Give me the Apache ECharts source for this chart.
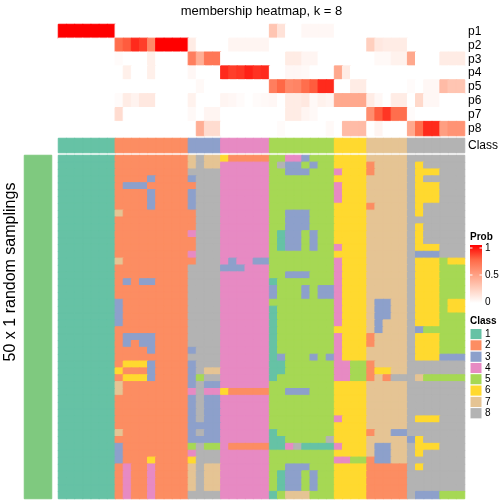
<!DOCTYPE html>
<html><head><meta charset="utf-8">
<script src="https://cdn.jsdelivr.net/npm/echarts@6.0.0/dist/echarts.min.js"></script>
<style>html,body{margin:0;padding:0;background:#fff}#c{width:504px;height:504px}</style>
</head><body><div id="c"></div><script>
// ---------- DATA ----------
const titleText = 'membership heatmap, k = 8';
const probLabels = ['p1','p2','p3','p4','p5','p6','p7','p8'];
const classNames = [1,2,3,4,5,6,7,8];
const classColors = ['#66C2A5','#FC8D62','#8DA0CB','#E78AC3','#A6D854','#FFD92F','#E5C494','#B3B3B3'];
// class of each of the 50 columns
const colClass = [1,1,1,1,1,1,1, 2,2,2,2,2,2,2,2,2, 3,3,3,3, 4,4,4,4,4,4, 5,5,5,5,5,5,5,5, 6,6,6,6, 7,7,7,7,7, 8,8,8,8,8,8,8];
// membership probabilities per class row
const p1 = [1,1,1,1,1,1,1, 0,0,0,0,0,0,0,0,0, 0,0,0,0, 0,0,0,0,0,0, 0.3,0.15,0,0,0.04,0.04,0.04,0.04, 0,0,0,0, 0,0,0,0,0, 0,0,0,0,0,0,0];
const p2 = [0,0,0,0,0,0,0, 0.72,0.78,0.9,0.85,0.6,1,1,1,1, 0.1,0,0,0, 0,0.05,0.05,0.05,0.05,0.05, 0,0,0,0,0,0,0,0, 0,0,0,0, 0.25,0.12,0.1,0.1,0.1, 0,0,0,0,0,0,0];
const p3 = [0,0,0,0,0,0,0, 0.02,0,0,0,0.08,0,0,0,0, 0.65,0.42,0.68,0.68, 0,0,0,0,0,0, 0,0,0.1,0.1,0.05,0.05,0,0, 0,0,0,0, 0,0.03,0.03,0.07,0.07, 0.45,0,0,0,0.1,0.1,0.1];
const p4 = [0,0,0,0,0,0,0, 0,0.08,0,0,0.08,0,0,0,0, 0.04,0,0,0, 0.9,0.85,0.87,0.92,0.88,0.9, 0,0,0.04,0.04,0.03,0,0,0, 0.45,0.1,0,0, 0,0,0,0,0, 0,0,0,0,0,0,0];
const p5 = [0,0,0,0,0,0,0, 0,0,0,0,0,0,0,0,0, 0,0.03,0,0, 0,0,0,0,0,0, 0.65,0.75,0.6,0.62,0.72,0.78,0.9,0.9, 0,0,0.1,0.1, 0,0,0,0,0, 0.02,0,0.04,0.04,0.35,0.3,0.3];
const p6 = [0,0,0,0,0,0,0, 0.02,0.1,0.06,0.12,0.12,0,0,0,0, 0.07,0,0,0, 0.05,0.04,0.02,0,0.02,0.03, 0.04,0,0.1,0.1,0.12,0.03,0.07,0.05, 0.45,0.45,0.45,0.45, 0.1,0.04,0,0.1,0.1, 0,0.2,0.04,0.04,0,0,0];
const p7 = [0,0,0,0,0,0,0, 0.18,0,0,0,0,0,0,0,0, 0.03,0,0.05,0.05, 0,0,0,0,0,0, 0,0,0.1,0.1,0.05,0.03,0,0, 0,0,0,0, 0.58,0.78,0.87,0.72,0.72, 0.02,0,0,0,0,0,0];
const p8 = [0,0,0,0,0,0,0, 0,0,0,0,0,0,0,0,0, 0,0.42,0.18,0.18, 0,0,0,0,0,0, 0,0.02,0,0,0,0,0,0.03, 0,0.35,0.35,0.35, 0,0.05,0,0,0, 0.45,0.72,0.9,0.9,0.5,0.55,0.55];
// class assigned in each of 50 random samplings (rows) for each column
const samplings = [
 '1111111'+'222222222'+'7877'+'622222'+'55443555'+'6666'+'77777'+'8888888',
 '1111111'+'222222222'+'7877'+'444444'+'58335355'+'6666'+'27777'+'8688888',
 '1111111'+'222222222'+'8888'+'444444'+'55333555'+'4666'+'27777'+'8666888',
 '1111111'+'222232222'+'3888'+'444444'+'55555555'+'6666'+'77777'+'8688888',
 '1111111'+'233322222'+'2888'+'444444'+'55555555'+'4666'+'77777'+'8666888',
 '1111111'+'222232222'+'3888'+'444444'+'55555555'+'4666'+'77777'+'8666888',
 '1111111'+'222232222'+'3888'+'444444'+'55555555'+'4666'+'77777'+'8666888',
 '1111111'+'222232222'+'3888'+'444444'+'55555555'+'6666'+'27777'+'8688888',
 '1111111'+'722222222'+'2888'+'444444'+'55333555'+'6666'+'77777'+'8688888',
 '1111111'+'222222222'+'2888'+'444444'+'55333555'+'6666'+'77777'+'8888888',
 '1111111'+'222222222'+'2888'+'444444'+'55333555'+'6666'+'77777'+'8688888',
 '1111111'+'222222222'+'4888'+'444444'+'51335355'+'6666'+'77777'+'8688888',
 '1111111'+'222222222'+'2888'+'444444'+'51335355'+'6666'+'77777'+'8688888',
 '1111111'+'222222222'+'2888'+'444444'+'51335355'+'4666'+'77777'+'8666888',
 '1111111'+'222222222'+'4888'+'444444'+'55555555'+'6666'+'77777'+'8333888',
 '1111111'+'722222222'+'2888'+'434433'+'55555555'+'4666'+'77777'+'8666566',
 '1111111'+'222222222'+'8888'+'333444'+'55555555'+'4666'+'77777'+'8666555',
 '1111111'+'222222222'+'8888'+'444444'+'55333555'+'4666'+'77777'+'8666555',
 '1111111'+'232332222'+'8888'+'444444'+'15555555'+'4666'+'77777'+'8666555',
 '1111111'+'222222222'+'8888'+'444444'+'35553533'+'4666'+'77777'+'8666555',
 '1111111'+'222222222'+'8888'+'444444'+'35553533'+'4666'+'77777'+'8666555',
 '1111111'+'322222222'+'8888'+'444444'+'55555555'+'4666'+'73377'+'8666566',
 '1111111'+'322222222'+'8888'+'444444'+'15555555'+'4666'+'73377'+'8666566',
 '1111111'+'322222222'+'8888'+'444444'+'15555555'+'4666'+'73377'+'8666555',
 '1111111'+'322222222'+'8888'+'444444'+'15555555'+'4666'+'73777'+'8666555',
 '1111111'+'222222222'+'8888'+'444444'+'15555555'+'6666'+'73777'+'8355555',
 '1111111'+'233332222'+'8888'+'444444'+'15555555'+'4666'+'27777'+'8666555',
 '1111111'+'232332222'+'8888'+'444444'+'15555555'+'4666'+'27777'+'8666555',
 '1111111'+'222232222'+'3888'+'444444'+'15555555'+'4666'+'77777'+'8666555',
 '1111111'+'222222222'+'8888'+'444444'+'13555353'+'4666'+'77777'+'8666333',
 '1111111'+'266632222'+'3888'+'444444'+'11555555'+'4455'+'27777'+'8888888',
 '1111111'+'622232222'+'3877'+'444444'+'11555555'+'4455'+'26677'+'8888888',
 '1111111'+'266632222'+'3588'+'444444'+'15555555'+'4455'+'27288'+'8755555',
 '1111111'+'722222222'+'3833'+'444444'+'55555555'+'6666'+'77777'+'8888888',
 '1111111'+'722222222'+'4844'+'622222'+'55333555'+'6666'+'77777'+'8888888',
 '1111111'+'222222222'+'3833'+'444444'+'55555555'+'6666'+'77777'+'8888888',
 '1111111'+'222222222'+'3833'+'444444'+'55555555'+'6666'+'77777'+'8888888',
 '1111111'+'222222222'+'3833'+'444444'+'55555555'+'6666'+'77777'+'8888888',
 '1111111'+'222222222'+'3833'+'444444'+'55555555'+'4666'+'77777'+'8666888',
 '1111111'+'222222222'+'3333'+'444444'+'55555555'+'6666'+'77777'+'8888888',
 '1111111'+'722222222'+'3833'+'444444'+'15555555'+'6666'+'27733'+'8888888',
 '1111111'+'222222222'+'3333'+'444444'+'11555558'+'6666'+'77777'+'3688888',
 '1111111'+'322222222'+'5855'+'422222'+'11481111'+'4666'+'73377'+'8666888',
 '1111111'+'322222222'+'4888'+'444444'+'55555555'+'6666'+'73377'+'8688888',
 '1111111'+'322262222'+'6888'+'444444'+'55555555'+'4455'+'23377'+'8888888',
 '1111111'+'242242222'+'7877'+'444444'+'55333555'+'6666'+'22222'+'8688888',
 '1111111'+'242242222'+'7877'+'444444'+'51335355'+'6666'+'22222'+'8888888',
 '1111111'+'242242222'+'7877'+'444444'+'51335355'+'6666'+'22222'+'8888888',
 '1111111'+'242242222'+'7877'+'444444'+'51335355'+'6666'+'22222'+'8888888',
 '1111111'+'242242222'+'8888'+'444444'+'15777555'+'6666'+'22222'+'8333555'
];
const probTicks = ['1','0.5','0'];
const rowTitle = '50 x 1 random samplings';
const annoText = 'top 1000 rows';

// ---------- BUILD ----------
const FONT = '"Liberation Sans", Arial, Helvetica, sans-serif';
const nCol = colClass.length;
const colIdx = Array.from({length:nCol},(_,i)=>i);
const rowIdx = samplings.map((_,i)=>i);
const probRows = [p1,p2,p3,p4,p5,p6,p7,p8];
const gradColors = ['#FFFFFF','#FFCFBE','#FF9E81','#FF6846','#FF0000'];
// border in same colour as the fill hides anti-aliasing seams between cells
function cell(c, r, v, col){ return {value:[c,r,v], itemStyle:{borderColor:col, borderWidth:1}}; }
const memData = [];
probRows.forEach((arr,r)=>arr.forEach((v,c)=>memData.push(cell(c,r,v,echarts.color.lerp(v, gradColors)))));
const classData = colClass.map((v,c)=>cell(c,0,v,classColors[v-1]));
const sampData = [];
samplings.forEach((s,r)=>{ for(let c=0;c<nCol;c++){ const v=+s[c]; sampData.push(cell(c,r,v,classColors[v-1])); } });

// grids are inset by half a pixel so the 1px cell borders end on the true edges
const L=58.5, W=406;

const graphics = [
  {type:'text', x:261.5, y:11, style:{text:titleText, font:'13px '+FONT, fill:'#000', textAlign:'center', textVerticalAlign:'middle'}},
  {type:'text', x:11, y:272, rotation:Math.PI/2, style:{text:rowTitle, font:'16px '+FONT, fill:'#000', textAlign:'center', textVerticalAlign:'middle'}},
  {type:'text', x:38, y:309, rotation:Math.PI/2, style:{text:annoText, font:'12px '+FONT, fill:'#000', textAlign:'center', textVerticalAlign:'middle'}},
  {type:'text', x:470, y:237, style:{text:'Prob', font:'bold 10px '+FONT, fill:'#000', textAlign:'left', textVerticalAlign:'middle'}},
  {type:'rect', shape:{x:470, y:245, width:12, height:58}, style:{fill:new echarts.graphic.LinearGradient(0,0,0,1,[{offset:0,color:'#FF0000'},{offset:0.25,color:'#FF6846'},{offset:0.5,color:'#FF9E81'},{offset:0.75,color:'#FFCFBE'},{offset:1,color:'#FFFFFF'}])}},
  {type:'text', x:470, y:321, style:{text:'Class', font:'bold 10px '+FONT, fill:'#000', textAlign:'left', textVerticalAlign:'middle'}}
];
const tickY = [248, 275, 302];
probTicks.forEach((t,i)=>{
  graphics.push({type:'text', x:485, y:tickY[i], style:{text:t, font:'10px '+FONT, fill:'#000', textAlign:'left', textVerticalAlign:'middle'}});
  if(i<2){
    graphics.push({type:'line', shape:{x1:470,y1:tickY[i],x2:472.5,y2:tickY[i]}, style:{stroke:'#fff', lineWidth:1}});
    graphics.push({type:'line', shape:{x1:479.5,y1:tickY[i],x2:482,y2:tickY[i]}, style:{stroke:'#fff', lineWidth:1}});
  }
});
const sq = 11.3, sq0 = 328.5;
classNames.forEach((k,i)=>{
  graphics.push({type:'rect', shape:{x:470, y:sq0+i*sq, width:12, height:sq}, style:{fill:classColors[i], stroke:'#fff', lineWidth:1}});
  graphics.push({type:'text', x:485, y:sq0+i*sq+sq/2, style:{text:String(k), font:'10px '+FONT, fill:'#000', textAlign:'left', textVerticalAlign:'middle'}});
});

const hideAxis = {axisLine:{show:false}, axisTick:{show:false}, axisLabel:{show:false}, splitLine:{show:false}};
const option = {
  animation:false,
  backgroundColor:'#fff',
  grid:[
    {left:L, top:24.5, width:W, height:111},
    {left:L, top:138.5, width:W, height:14},
    {left:L, top:155.5, width:W, height:343},
    {left:24.5, top:155.5, width:27, height:343}
  ],
  xAxis:[
    Object.assign({type:'category', gridIndex:0, data:colIdx}, hideAxis),
    Object.assign({type:'category', gridIndex:1, data:colIdx}, hideAxis),
    Object.assign({type:'category', gridIndex:2, data:colIdx}, hideAxis),
    Object.assign({type:'category', gridIndex:3, data:['a']}, hideAxis)
  ],
  yAxis:[
    {type:'category', gridIndex:0, data:probLabels, inverse:true, position:'right', axisLine:{show:false}, axisTick:{show:false}, splitLine:{show:false},
      axisLabel:{interval:0, fontSize:12, color:'#000', margin:3.5, fontFamily:FONT}},
    {type:'category', gridIndex:1, data:['Class'], position:'right', axisLine:{show:false}, axisTick:{show:false}, splitLine:{show:false},
      axisLabel:{interval:0, fontSize:12, color:'#000', margin:3.5, fontFamily:FONT}},
    Object.assign({type:'category', gridIndex:2, data:rowIdx, inverse:true}, hideAxis),
    Object.assign({type:'category', gridIndex:3, data:['a']}, hideAxis)
  ],
  visualMap:[
    {type:'continuous', min:0, max:1, seriesIndex:0, show:false, inRange:{color:gradColors}},
    {type:'piecewise', seriesIndex:[1,2], show:false, pieces:classNames.map((k,i)=>({value:k, color:classColors[i]}))},
    {type:'piecewise', seriesIndex:3, show:false, pieces:[{value:1, color:'#7FC97F'}]}
  ],
  series:[
    {type:'heatmap', xAxisIndex:0, yAxisIndex:0, data:memData, emphasis:{disabled:true}},
    {type:'heatmap', xAxisIndex:1, yAxisIndex:1, data:classData, emphasis:{disabled:true}},
    {type:'heatmap', xAxisIndex:2, yAxisIndex:2, data:sampData, emphasis:{disabled:true}},
    {type:'heatmap', xAxisIndex:3, yAxisIndex:3, data:[{value:[0,0,1], itemStyle:{borderColor:'#7FC97F', borderWidth:1}}], emphasis:{disabled:true}}
  ],
  graphic:graphics
};
const chart = echarts.init(document.getElementById('c'), null, {renderer:'canvas'});
chart.setOption(option);
</script></body></html>
